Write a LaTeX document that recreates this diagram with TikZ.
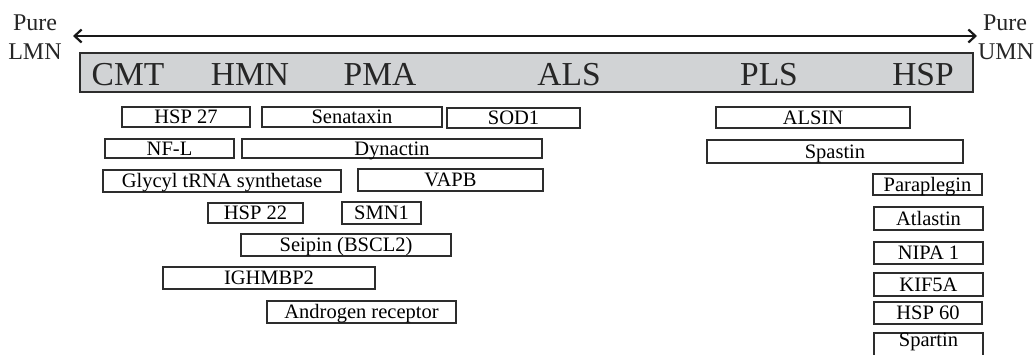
\documentclass[tikz,border=0pt]{standalone}
\usepackage{fontspec}
\setmainfont{Liberation Serif}
\usetikzlibrary{arrows.meta}
\definecolor{barfill}{RGB}{209,211,213}
\definecolor{edge}{RGB}{45,45,45}
\tikzset{
  gbox/.style={draw=edge, line width=1.1pt, rectangle, inner sep=0pt, outer sep=0pt,
    font=\fontsize{20.5}{20.5}\selectfont, text height=13.6pt, text depth=0pt},
  barlabel/.style={anchor=base, inner sep=0pt, font=\fontsize{33.5}{33.5}\selectfont, text=black!85},
  endlabel/.style={anchor=base, inner sep=0pt, font=\fontsize{24}{24}\selectfont, text=black!85},
  spectrum/.style={line width=2.6pt, black!90, {Straight Barb[length=7pt,width=13pt,line width=2.2pt]}-{Straight Barb[length=7pt,width=13pt,line width=2.2pt]}}
}
\newcommand\gbox[7][]{\node[gbox, minimum width={#5-#3}, minimum height={#6-#4}, #1] (#2) at ({(#3+#5)/2},{(#4+#6)/2}) {#7};}
\begin{document}
\begin{tikzpicture}[x=1pt,y=-1pt]
\useasboundingbox (0,0) rectangle (1034,354);
\clip (0,0) rectangle (1034,354);
% end labels
\node[endlabel] (pureL) at (35,30) {Pure};
\node[endlabel] (lmn) at (35,59) {LMN};
\node[endlabel] (pureR) at (1005,30) {Pure};
\node[endlabel] (umn) at (1006,59) {UMN};
% arrow
\coordinate (aL) at (73,36);
\coordinate (aR) at (977,36);
\draw[spectrum] (aL) -- (aR);
% bar
\node[draw=edge, line width=1.4pt, fill=barfill, inner sep=0pt, minimum width=893pt, minimum height=39pt] (bar) at (526.5,72.5) {};
\node[barlabel] (cmt) at (128,85) {CMT};
\node[barlabel] (hmn) at (250,85) {HMN};
\node[barlabel] (pma) at (380,85) {PMA};
\node[barlabel] (als) at (569,85) {ALS};
\node[barlabel] (pls) at (769,85) {PLS};
\node[barlabel] (hsp) at (923,85) {HSP};
% gene boxes
\gbox{hsp27}{122}{107}{250}{127}{HSP 27}
\gbox{senataxin}{262}{107}{442}{127}{Senataxin}
\gbox{sod1}{447}{108}{580}{128}{SOD1}
\gbox{nfl}{105}{139}{234}{158}{NF-L}
\gbox{dynactin}{242}{139}{542}{158}{Dynactin}
\gbox{glycyl}{103}{170}{341}{192}{Glycyl tRNA synthetase}
\gbox{vapb}{358}{169}{543}{191}{VAPB}
\gbox{hsp22}{208}{203}{303}{223}{HSP 22}
\gbox{smn1}{342}{202}{421}{224}{SMN1}
\gbox{seipin}{241}{234}{451}{256}{Seipin (BSCL2)}
\gbox{ighmbp2}{163}{267}{375}{289}{IGHMBP2}
\gbox{androgen}{267}{301}{456}{323}{Androgen receptor}
\gbox{alsin}{716}{107}{910}{128}{ALSIN}
\gbox{spastin}{707}{140}{963}{163}{Spastin}
\gbox{paraplegin}{873}{174}{982}{195}{Paraplegin}
\gbox{atlastin}{874}{207}{983}{230}{Atlastin}
\gbox{nipa1}{874}{242}{983}{264}{NIPA 1}
\gbox{kif5a}{874}{273}{983}{296}{KIF5A}
\gbox{hsp60}{874}{302}{982}{324}{HSP 60}
\gbox[text depth=14.4pt]{spartin}{874}{333}{983}{361}{Spartin}
\end{tikzpicture}
\end{document}
